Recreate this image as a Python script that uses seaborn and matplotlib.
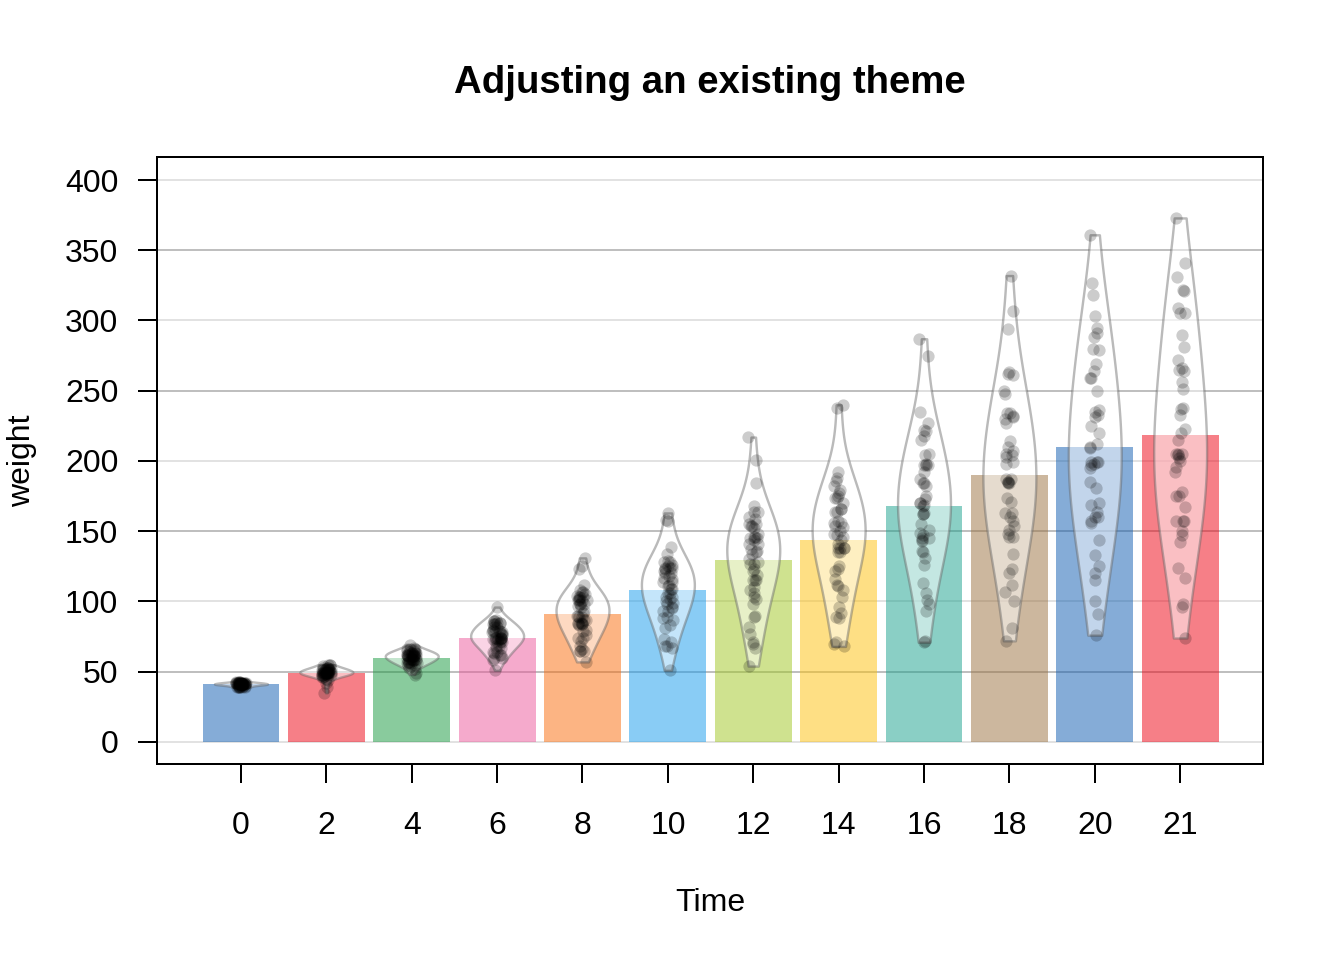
import matplotlib
matplotlib.use("Agg")
import matplotlib.pyplot as plt
import numpy as np
import pandas as pd
import seaborn as sns

times = ["0", "2", "4", "6", "8", "10", "12", "14", "16", "18", "20", "21"]

w0 = [42, 40, 43, 42, 41, 41, 41, 42, 42, 41, 43, 41, 41, 41, 41, 41, 42, 39, 43, 41,
      40, 41, 43, 42, 40, 42, 39, 39, 39, 42, 42, 41, 39, 41, 41, 39, 41, 41, 42, 41,
      42, 42, 42, 42, 41, 40, 41, 39, 40, 41]
w2 = [51, 49, 39, 49, 42, 49, 49, 50, 51, 44, 51, 49, 48, 49, 49, 45, 51, 35, 48, 47,
      50, 55, 52, 52, 49, 48, 46, 46, 48, 48, 53, 49, 50, 49, 53, 48, 48, 49, 50, 55,
      51, 49, 55, 51, 50, 52, 53, 50, 53, 54]
w4 = [59, 58, 55, 56, 48, 59, 57, 61, 59, 52, 63, 56, 53, 62, 56, 49, 61, 55, 54,
      62, 64, 61, 58, 62, 57, 58, 58, 59, 59, 62, 65, 63, 63, 64, 61, 56, 61, 61, 66,
      66, 63, 69, 65, 61, 62, 66, 62, 64, 67]
w6 = [64, 72, 67, 67, 60, 74, 71, 71, 68, 63, 84, 62, 60, 79, 64, 51, 72, 62, 58,
      86, 77, 73, 74, 78, 74, 73, 73, 74, 72, 73, 82, 77, 85, 87, 76, 68, 74, 78, 79,
      85, 84, 96, 86, 78, 82, 79, 80, 85, 84]
w8 = [76, 84, 84, 74, 79, 97, 89, 84, 85, 74, 112, 72, 65, 101, 68, 57, 83, 65, 65,
      125, 90, 90, 66, 102, 93, 87, 92, 87, 85, 85, 107, 96, 107, 123, 98, 80, 98, 89, 101,
      103, 103, 131, 103, 98, 101, 100, 104, 108, 105]
w10 = [93, 103, 99, 87, 106, 124, 112, 93, 96, 81, 139, 88, 67, 128, 68, 51, 89, 71, 73,
       163, 95, 103, 68, 124, 114, 100, 114, 106, 98, 102, 129, 111, 134, 158, 116, 83, 109, 109, 120,
       124, 126, 157, 118, 117, 120, 123, 125, 128, 122]
w12 = [106, 122, 115, 102, 141, 141, 146, 110, 90, 89, 168, 119, 71, 164, 67, 54, 98, 82, 77,
       217, 108, 127, 70, 146, 136, 115, 145, 134, 115, 123, 159, 137, 164, 201, 145, 103, 128, 130, 154,
       155, 160, 184, 127, 135, 144, 148, 154, 152, 155]
w14 = [125, 138, 138, 108, 164, 148, 174, 116, 92, 96, 177, 135, 70, 192, 68, 103, 88, 89,
       240, 111, 135, 71, 164, 147, 123, 156, 150, 122, 138, 179, 144, 186, 238, 166, 112, 154, 146, 182,
       153, 174, 188, 138, 141, 156, 157, 170, 166, 175]
w16 = [149, 162, 163, 136, 197, 155, 218, 126, 93, 101, 182, 162, 71, 227, 113, 106, 98,
       275, 131, 145, 72, 197, 169, 144, 184, 187, 143, 170, 221, 151, 235, 287, 198, 135, 192, 170, 215,
       175, 204, 197, 145, 147, 173, 168, 222, 184, 205]
w18 = [171, 187, 187, 154, 199, 160, 250, 134, 100, 112, 184, 185, 81, 248, 123, 120, 107,
       307, 148, 163, 72, 231, 205, 163, 207, 230, 151, 204, 263, 146, 294, 332, 227, 157, 232, 214, 262,
       184, 234, 198, 146, 174, 210, 185, 261, 203, 234]
w20 = [199, 209, 198, 160, 220, 160, 288, 125, 100, 120, 181, 195, 91, 259, 133, 144, 115,
       318, 164, 170, 76, 259, 236, 185, 212, 279, 157, 235, 291, 156, 327, 361, 225, 169, 280, 250, 295,
       199, 269, 199, 197, 231, 210, 303, 233, 264]
w21 = [205, 215, 202, 157, 223, 157, 305, 98, 124, 175, 205, 96, 266, 142, 157, 117,
       331, 167, 175, 74, 265, 251, 192, 233, 309, 150, 256, 305, 147, 341, 373, 220, 178, 290, 272, 321,
       204, 281, 200, 196, 238, 205, 322, 237, 264]

weights = [w0, w2, w4, w6, w8, w10, w12, w14, w16, w18, w20, w21]

# basel palette (yarrr), recycled
bar_colors = ["#0C5BB0", "#EE0011", "#15983D", "#EC579A", "#FA6B09", "#149BED",
              "#A1C720", "#FEC10B", "#16A08C", "#9A703E", "#0C5BB0", "#EE0011"]

df = pd.DataFrame({
    "Time": [t for t, w in zip(times, weights) for _ in w],
    "weight": [v for w in weights for v in w],
})

sns.set_theme(style="white")
plt.rcParams["font.family"] = ["Liberation Sans", "DejaVu Sans"]
plt.rcParams["text.color"] = "black"

fig = plt.figure(figsize=(7, 5), dpi=192)
ax = fig.add_axes([0.1168, 0.2042, 0.8229, 0.6323])

# grid lines, alternating shades
for g in range(0, 401, 50):
    col = "#B0B0B0" if g % 100 == 50 else "#DCDCDC"
    ax.axhline(g, color=col, lw=0.6, zorder=0)

sns.barplot(data=df, x="Time", y="weight", hue="Time", order=times, hue_order=times,
            palette=bar_colors, saturation=1, errorbar=None, width=0.9, alpha=0.5,
            legend=False, linewidth=0, ax=ax, zorder=1)

n_before = len(ax.collections)
sns.violinplot(data=df, x="Time", y="weight", order=times, inner=None, cut=0,
               density_norm="width", width=0.62, bw_method="silverman", bw_adjust=1.3,
               color="white", linewidth=0.9, ax=ax)
for coll in ax.collections[n_before:]:
    coll.set_facecolor((1, 1, 1, 0.5))
    coll.set_edgecolor((0.4, 0.4, 0.4, 0.45))
    coll.set_zorder(2)

np.random.seed(3)
sns.stripplot(data=df, x="Time", y="weight", order=times, color="black", alpha=0.2,
              size=4.6, jitter=0.06, linewidth=0, ax=ax, zorder=3)

ax.set_xlim(-0.984, 11.97)
ax.set_ylim(-15.66, 416.4)
ax.set_yticks(range(0, 401, 50))
ax.tick_params(axis="both", direction="out", length=7, width=0.75, color="black",
               labelsize=12, labelcolor="black")
ax.tick_params(axis="x", pad=10.5)
ax.tick_params(axis="y", pad=7.5)
ax.xaxis.set_ticks_position("bottom")
ax.yaxis.set_ticks_position("left")
for s in ax.spines.values():
    s.set_visible(True)
    s.set_color("black")
    s.set_linewidth(0.75)

ax.set_xlabel("Time", fontsize=12, color="black")
ax.set_ylabel("weight", fontsize=12, color="black")
ax.xaxis.set_label_coords(0.5, -0.205)
ax.yaxis.set_label_coords(-0.108, 0.5)
ax.set_title("Adjusting an existing theme", fontsize=14.4, fontweight="bold",
             color="black", pad=24)

fig.savefig("out.png", dpi=192)
